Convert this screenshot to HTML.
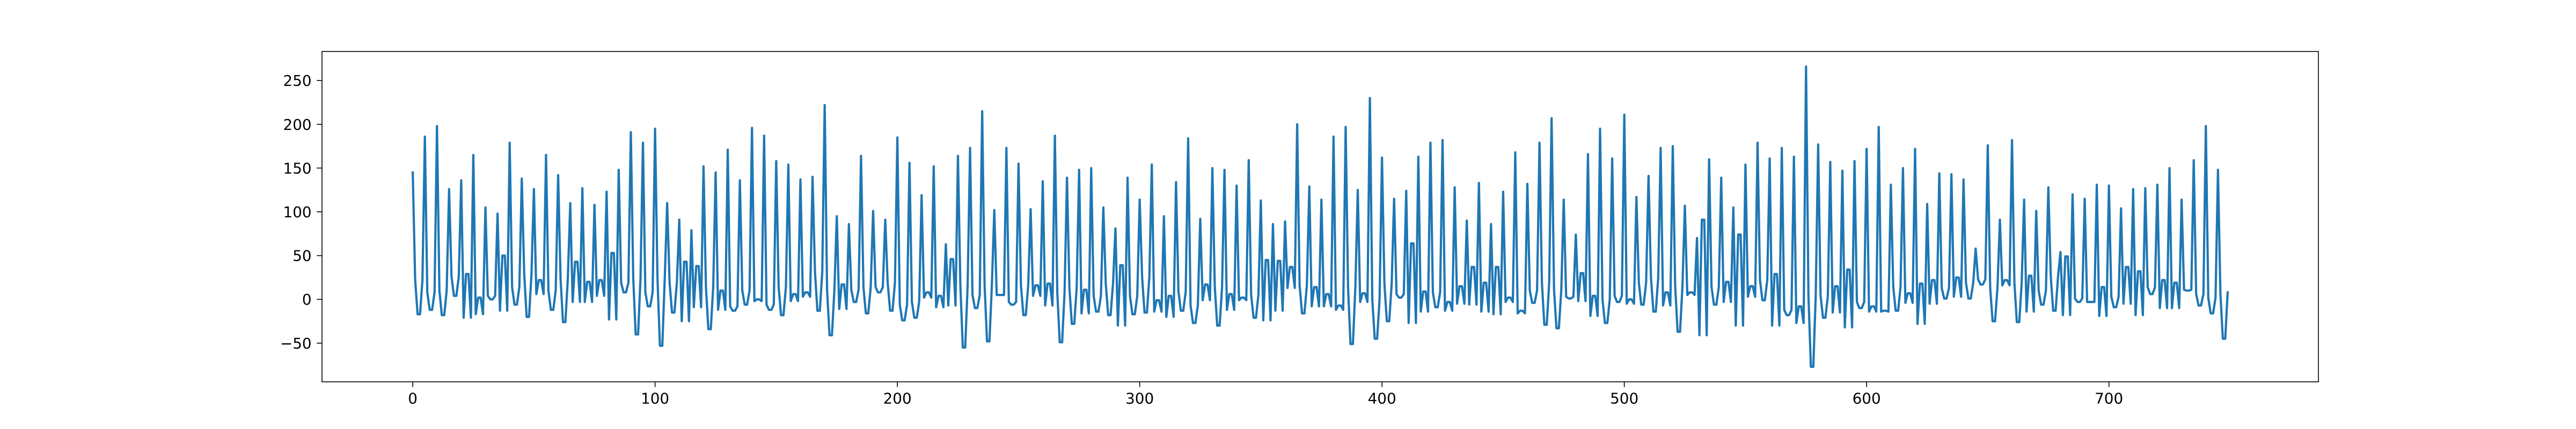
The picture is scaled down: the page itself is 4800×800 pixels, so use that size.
<!DOCTYPE html>
<html><head><meta charset="utf-8">
<style>
html,body{margin:0;padding:0;background:#fff;}
svg{display:block;}
text{font-family:"DejaVu Sans","Liberation Sans",sans-serif;font-size:27.8px;fill:#000;}
</style></head>
<body>
<svg id="chart" width="4800" height="800" xmlns="http://www.w3.org/2000/svg">
<rect x="0" y="0" width="4800" height="800" fill="#fff"/>
<g id="plot"></g>
</svg>
<script>
const peaks = [145,186,198,126,136,165,105,98,179,138,126,165,142,110,127,108,123,148,
191,179,195,110,91,79,152,145,171,136,196,187,158,154,137,140,222,95,
86,164,101,91,185,156,119,152,63,164,173,215,102,173,155,103,135,
187,139,148,150,105,81,139,114,154,95,134,184,92,150,148,130,159,113,
86,89,200,129,114,186,197,125,230,162,115,124,163,179,182,128,90,133,86,
123,168,132,179,207,114,74,166,195,161,211,117,141,173,175,107,70,160,
139,105,154,179,161,173,163,266,177,157,147,158,172,197,131,150,172,109,
144,143,137,58,176,91,182,114,101,128,54,120,115,131,130,104,126,127,
131,150,114,159,198,148];
const shoulders = [22,8,10,26,-21,-17,4,-13,14,29,6,10,24,-3,-3,4,-23,19,
24,8,24,19,-25,-9,14,-12,-8,10,-2,-6,14,-2,3,31,10,-11,
11,14,14,19,-6,-3,2,-9,-7,16,5,16,5,-3,16,4,-7,
8,13,-16,4,18,-30,4,26,-14,-20,9,-7,-1,14,-12,-1,5,-24,
-13,13,16,-8,-8,-12,13,-3,0,18,6,-27,-14,8,-13,-5,-6,-14,-17,
-3,-16,10,19,11,3,-2,-19,0,4,-5,19,25,-7,15,5,-41,14,
-3,-30,3,22,-30,-12,-27,4,4,-15,-32,-3,-14,-14,14,-4,-28,-5,
13,3,19,23,13,16,19,-14,10,26,-18,1,-3,-19,3,-5,-18,14,
-10,-10,11,6,2,8];
const troughs = [-17,-12,-18,4,29,2,0,50,-6,-20,22,-12,-26,43,20,22,53,8,
-40,-8,-53,-15,43,38,-34,10,-13,-6,0,-12,-18,6,8,-13,-41,17,
-3,-16,8,-13,-24,-21,8,4,46,-55,-10,-48,5,-6,-18,16,18,
-49,-28,11,-14,-18,39,-17,-15,-1,4,-13,-27,17,-30,6,2,-21,45,
44,37,-16,14,6,-7,-51,7,-45,-25,2,64,9,-9,-3,15,37,19,37,
2,-13,-4,-29,-33,1,30,4,-27,-3,0,-6,-14,8,-37,8,91,-6,
20,74,15,-1,29,-18,-8,-77,-21,15,34,-10,-8,-13,-13,7,18,22,
1,25,1,17,-25,22,-26,27,-6,-13,49,-3,-3,14,-9,37,32,6,
22,19,10,-7,-16,-45];
const xTicks = [0,100,200,300,400,500,600,700];
const yTicks = [-50,0,50,100,150,200,250];

const NS = "http://www.w3.org/2000/svg";
const L = 600, R = 4320, T = 96, B = 712;
const xMin = -37.45, xMax = 786.45, yMin = -94.2, yMax = 283.2;
const sx = v => L + (v - xMin) / (xMax - xMin) * (R - L);
const sy = v => B - (v - yMin) / (yMax - yMin) * (B - T);
const plot = document.getElementById('plot');

const values = [];
for (let k = 0; k < peaks.length; k++) {
  values.push(peaks[k], shoulders[k], troughs[k], troughs[k], shoulders[k]);
}
let d = '';
values.forEach((v, i) => { d += (i ? 'L' : 'M') + sx(i).toFixed(2) + ' ' + sy(v).toFixed(2); });
const path = document.createElementNS(NS, 'path');
path.setAttribute('d', d);
path.setAttribute('fill', 'none');
path.setAttribute('stroke', '#1f77b4');
path.setAttribute('stroke-width', '4.17');
path.setAttribute('stroke-linejoin', 'round');
path.setAttribute('stroke-linecap', 'square');


plot.appendChild(path);

const frame = document.createElementNS(NS, 'rect');
frame.setAttribute('x', L); frame.setAttribute('y', T);
frame.setAttribute('width', R - L); frame.setAttribute('height', B - T);
frame.setAttribute('fill', 'none'); frame.setAttribute('stroke', '#000');
frame.setAttribute('stroke-width', '1.6');


plot.appendChild(frame);

xTicks.forEach(t => {
  const x = sx(t);
  const ln = document.createElementNS(NS, 'line');
  ln.setAttribute('x1', x); ln.setAttribute('x2', x);
  ln.setAttribute('y1', B); ln.setAttribute('y2', B + 9.7);
  ln.setAttribute('stroke', '#000'); ln.setAttribute('stroke-width', '1.6');
  
  
  plot.appendChild(ln);
  const tx = document.createElementNS(NS, 'text');
  tx.setAttribute('x', x); tx.setAttribute('y', B + 19.4 + 21);
  tx.setAttribute('text-anchor', 'middle');
  tx.textContent = String(t);
  
  
  plot.appendChild(tx);
});
yTicks.forEach(t => {
  const y = sy(t);
  const ln = document.createElementNS(NS, 'line');
  ln.setAttribute('x1', L - 9.7); ln.setAttribute('x2', L);
  ln.setAttribute('y1', y); ln.setAttribute('y2', y);
  ln.setAttribute('stroke', '#000'); ln.setAttribute('stroke-width', '1.6');
  
  
  plot.appendChild(ln);
  const tx = document.createElementNS(NS, 'text');
  tx.setAttribute('x', L - 19.4); tx.setAttribute('y', y + 10);
  tx.setAttribute('text-anchor', 'end');
  tx.textContent = t < 0 ? '\u2212' + Math.abs(t) : String(t);
  
  
  plot.appendChild(tx);
});
</script>
</body></html>
